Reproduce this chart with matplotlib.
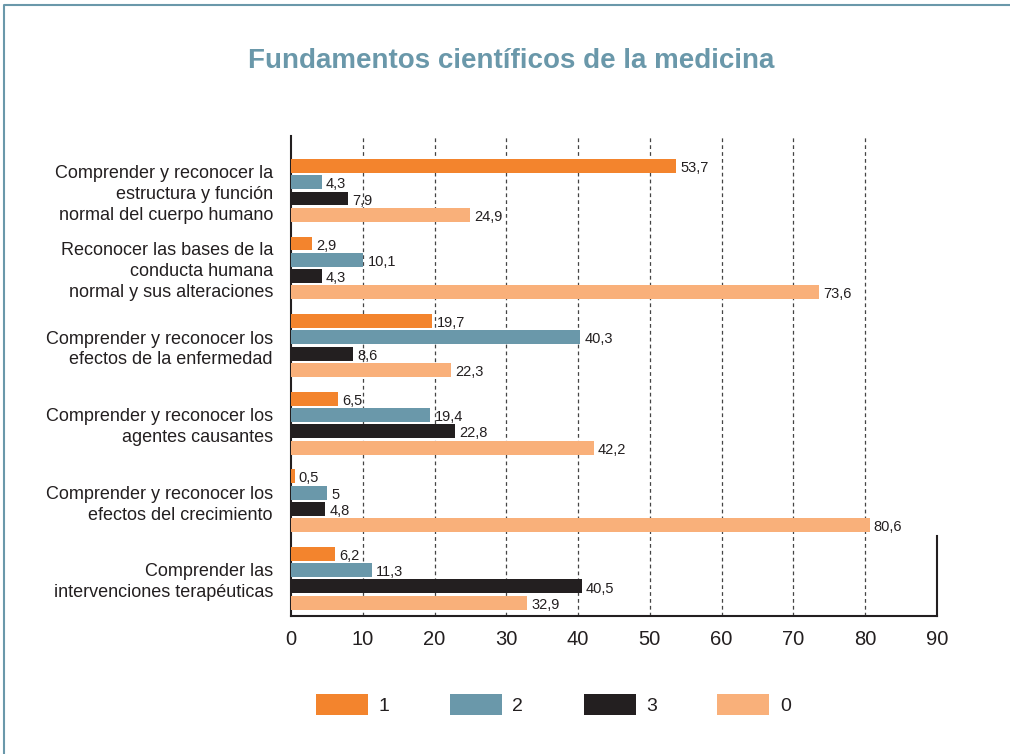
import numpy as np
import matplotlib
matplotlib.use("Agg")
import matplotlib.pyplot as plt
from matplotlib.lines import Line2D

# data
categories = [
    "Comprender y reconocer la\nestructura y función\nnormal del cuerpo humano",
    "Reconocer las bases de la\nconducta humana\nnormal y sus alteraciones",
    "Comprender y reconocer los\nefectos de la enfermedad",
    "Comprender y reconocer los\nagentes causantes",
    "Comprender y reconocer los\nefectos del crecimiento",
    "Comprender las\nintervenciones terapéuticas",
]
series_names = ["1", "2", "3", "0"]
s1 = [53.7, 2.9, 19.7, 6.5, 0.5, 6.2]
s2 = [4.3, 10.1, 40.3, 19.4, 5, 11.3]
s3 = [7.9, 4.3, 8.6, 22.8, 4.8, 40.5]
s0 = [24.9, 73.6, 22.3, 42.2, 80.6, 32.9]
series = [s1, s2, s3, s0]
colors = ["#f3842d", "#6a98aa", "#231f20", "#f9b07a"]
xticks = [0, 10, 20, 30, 40, 50, 60, 70, 80, 90]

txt = "#231f20"
fam = ["Liberation Sans", "DejaVu Sans"]

fig = plt.figure(figsize=(10.10, 7.54), dpi=100)
ax = fig.add_axes([0.2881, 0.1830, 0.6396, 0.6366])

y = np.arange(len(categories))
step = 0.21
h = 0.18
for i, (vals, c, name) in enumerate(zip(series, colors, series_names)):
    pos = y + (i - 1.5) * step
    ax.barh(pos, vals, height=h, color=c, label=name, zorder=3)
    for p, v in zip(pos, vals):
        lab = ("%g" % v).replace(".", ",")
        ax.annotate(lab, (v, p), xytext=(3, -1.5), textcoords="offset points",
                    ha="left", va="center", fontsize=10.5, color=txt,
                    family=fam, zorder=4)

ax.set_xlim(0, 90)
ax.set_ylim(5.486, -0.70)
ax.set_xticks(xticks)
ax.set_xticklabels([str(t) for t in xticks], fontsize=14.5, color=txt, family=fam)
ax.set_yticks(y)
ax.set_yticklabels(categories, fontsize=13, color=txt, family=fam, linespacing=1.3)
ax.tick_params(axis="both", length=0)
ax.tick_params(axis="y", pad=13)
ax.tick_params(axis="x", pad=10)

for t in xticks[1:-1]:
    ax.axvline(t, color="#444444", lw=0.9, ls=(0, (3, 2.5)), zorder=1)

for s in ["top", "right"]:
    ax.spines[s].set_visible(False)
for s in ["left", "bottom"]:
    ax.spines[s].set_color(txt)
    ax.spines[s].set_linewidth(1.5)
# short closing line on the right
ax.axvline(90, ymin=0, ymax=0.1667, color=txt, lw=1.5, clip_on=False)

fig.text(0.506, 0.919, "Fundamentos científicos de la medicina", ha="center",
         va="center", fontsize=20, fontweight="bold", color="#6a98aa", family=fam)

fig.legend(loc="center", bbox_to_anchor=(0.548, 0.066), ncol=4, frameon=False,
           prop={"family": fam, "size": 14}, handlelength=2.67, handleheight=1.28,
           handletextpad=0.55, columnspacing=3.1, labelcolor=txt)

# page frame
fig.add_artist(Line2D([0.004, 0.004, 1.0], [0.0, 0.993, 0.993],
                      transform=fig.transFigure, color="#6a98aa", lw=1.5))

fig.savefig("out.png", dpi=100)
